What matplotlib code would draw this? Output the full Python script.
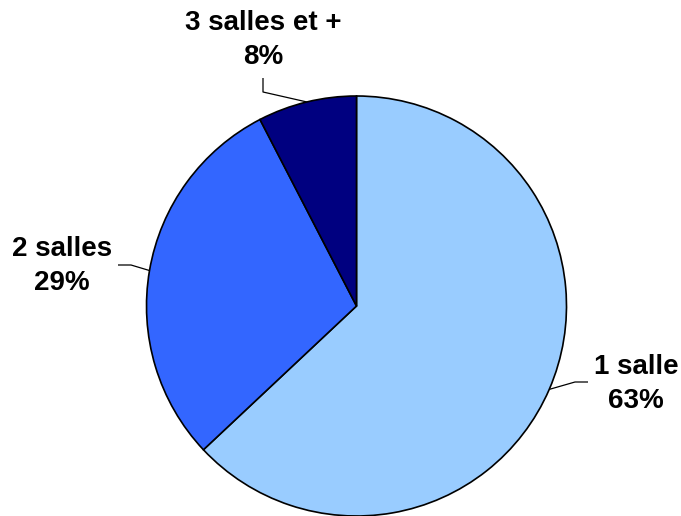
import numpy as np
import matplotlib
matplotlib.use("Agg")
import matplotlib.pyplot as plt

categories = ["1 salle", "2 salles", "3 salles et +"]
values = [63.0, 29.4, 7.6]
colors = ["#99CCFF", "#3366FF", "#000080"]

W, H = 681, 516
fig = plt.figure(figsize=(W / 100, H / 100), dpi=100)
ax = fig.add_axes([0, 0, 1, 1])

cx, cy, r = 356.5, H - 306, 210
wedges, _ = ax.pie(values, colors=colors, startangle=90, counterclock=False,
                   center=(cx, cy), radius=r, frame=True,
                   wedgeprops=dict(edgecolor="black", linewidth=1.2))
ax.set_xlim(0, W)
ax.set_ylim(0, H)
ax.set_aspect("equal")
ax.axis("off")

# label anchors (pixel coords from top) and elbow points
label_pos = [(636, 384), (62, 266), (263, 40)]
elbows = [[(588, 382), (575, 382)], [(118, 265), (131, 265)], [(263, 78), (263, 92)]]

for w, cat, v, lp, el in zip(wedges, categories, values, label_pos, elbows):
    mid = np.deg2rad((w.theta1 + w.theta2) / 2)
    ex, ey = cx + r * np.cos(mid), cy + r * np.sin(mid)
    xs = [p[0] for p in el] + [ex]
    ys = [H - p[1] for p in el] + [ey]
    ax.plot(xs, ys, color="black", linewidth=0.9, solid_capstyle="butt")
    ax.text(lp[0], H - lp[1], f"{cat}\n{v:.0f}%", ha="center", va="center",
            fontsize=20, fontweight="bold", family="Liberation Sans",
            linespacing=1.42)

fig.savefig("out.png", dpi=100)
